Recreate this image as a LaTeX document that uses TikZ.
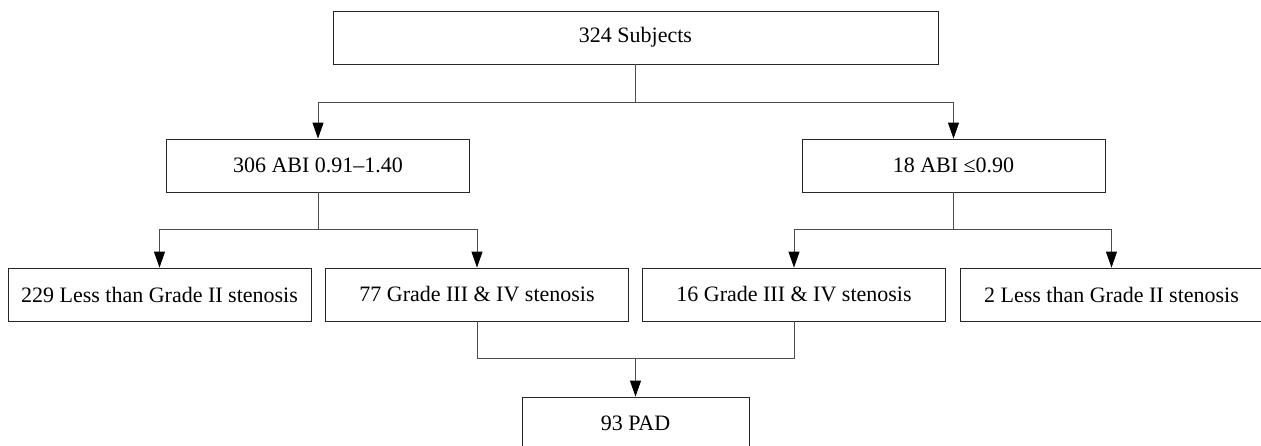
\documentclass[tikz,border=0pt]{standalone}
\usepackage{fontspec}
\setmainfont{Liberation Serif}
\usetikzlibrary{arrows.meta,positioning,calc}

\tikzset{
  box/.style={draw=black!85, line width=0.8pt, rectangle, minimum width=303pt,
    minimum height=53pt, inner sep=0pt, font=\fontsize{22}{26}\selectfont},
  link/.style={draw=black!70, line width=0.9pt},
  >={Triangle[length=16pt,width=11pt,fill=black,color=black]},
}

\begin{document}
\begin{tikzpicture}[x=1pt,y=1pt,on grid]
\useasboundingbox (0,0) rectangle (1261,-446);
% Subjects
\node[box,minimum width=605pt] (subj) at (635.5,-37.5) {324 Subjects};

% ABI groups
\node[box,below left=128pt and 317.5pt of subj] (abinorm) {306 ABI 0.91--1.40};
\node[box,below right=128pt and 318pt of subj] (abilow) {18 ABI ≤0.90};

% Stenosis grades
\node[box,below left=129pt and 158.5pt of abinorm] (lessA) {229 Less than Grade II stenosis};
\node[box,below right=129pt and 159pt of abinorm] (highA) {77 Grade III \& IV stenosis};
\node[box,below left=129pt and 159.5pt of abilow] (highB) {16 Grade III \& IV stenosis};
\node[box,below right=129pt and 158pt of abilow] (lessB) {2 Less than Grade II stenosis};

% PAD
\coordinate (mid) at ($(highA)!.5!(highB)$);
\node[box,minimum width=227pt] (pad) at ($(mid)+(0,-129)$) {93 PAD};

% Branch points
\coordinate (s1) at ($(subj.south)+(0,-38)$);
\coordinate (s2) at ($(abinorm.south)+(0,-37)$);
\coordinate (s3) at ($(abilow.south)+(0,-37)$);
\coordinate (s4) at ($(mid)+(0,-64)$);

% Arcs
\draw[link] (subj) -- (s1);
\draw[link,->] (s1) -| (abinorm);
\draw[link,->] (s1) -| (abilow);
\draw[link] (abinorm) -- (s2);
\draw[link,->] (s2) -| (lessA);
\draw[link,->] (s2) -| (highA);
\draw[link] (abilow) -- (s3);
\draw[link,->] (s3) -| (highB);
\draw[link,->] (s3) -| (lessB);
\draw[link] (highA) |- (s4) -| (highB);
\draw[link,->] (s4) -- (pad);
\end{tikzpicture}
\end{document}
